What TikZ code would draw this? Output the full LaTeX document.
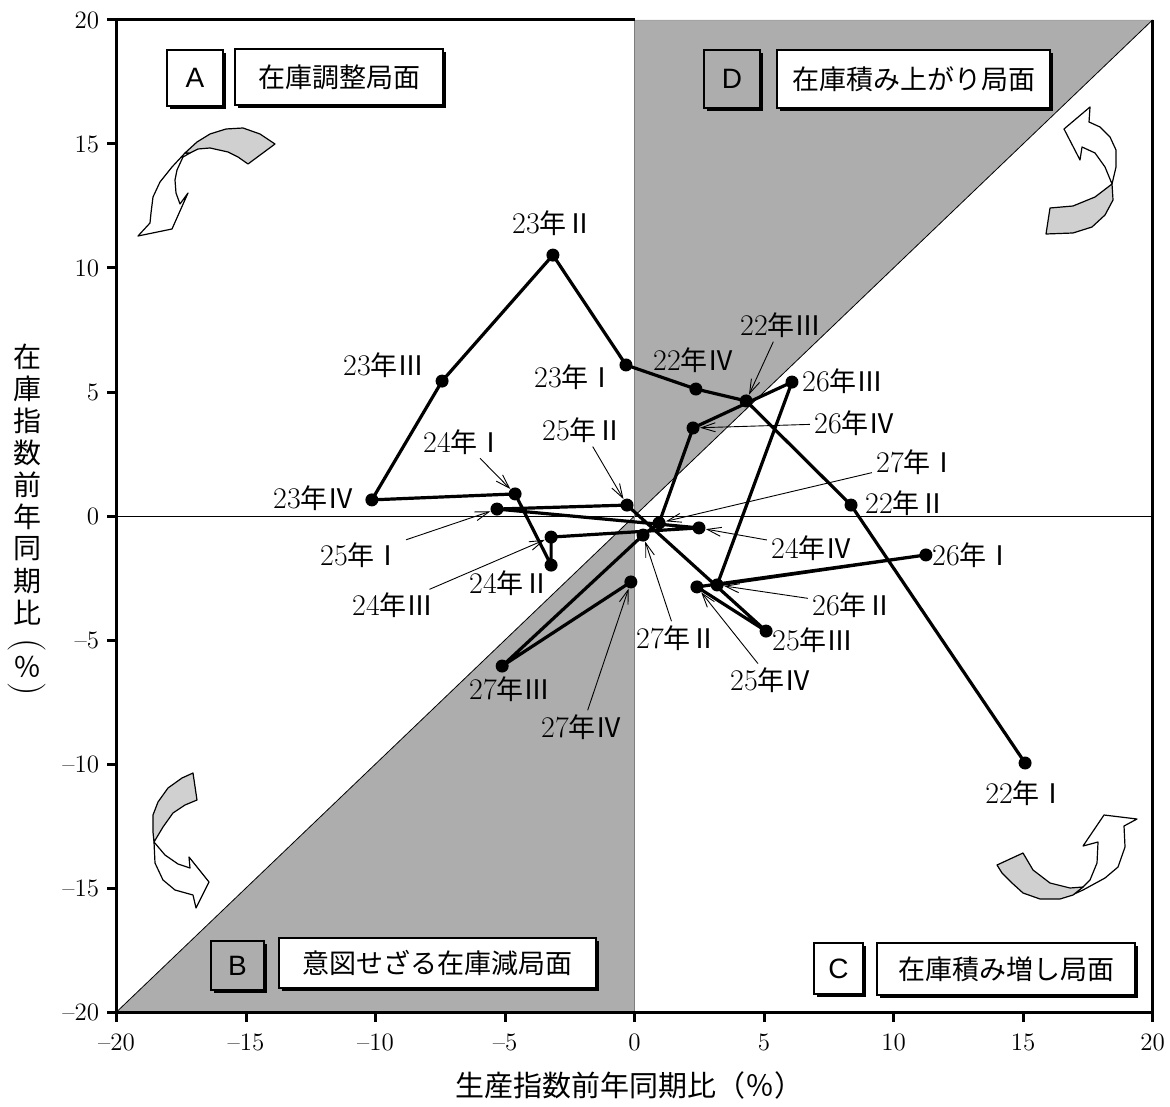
\documentclass[tikz,border=0pt]{standalone}
\usepackage{fontspec}
\newfontfamily\cjk{Noto Sans CJK JP}
\newfontfamily\sanslat{Liberation Sans}
\usetikzlibrary{arrows.meta,shadows}
\definecolor{regiongray}{RGB}{173,173,173}
\definecolor{bandgray}{RGB}{208,208,208}
\definecolor{zerogray}{RGB}{125,125,125}
\newcommand\yq[2]{#1{\cjk\fontsize{13.5}{13.5}\selectfont 年#2}}
\begin{document}
\begin{tikzpicture}[x=0.5pt,y=-0.5pt,
  dot/.style={circle,fill=black,inner sep=0pt,minimum size=6.5pt},
  dataline/.style={line width=1.6pt,line join=round},
  qlabel/.style={inner sep=1pt,font=\fontsize{15}{15}\selectfont},
  leader/.style={line width=0.45pt,-{Straight Barb[length=7pt,width=4.5pt]},shorten <=1pt},
  frame/.style={line width=1.5pt},
  ticklab/.style={font=\fontsize{12.5}{12.5}\selectfont,inner sep=0pt},
  letterbox/.style={draw=black,line width=0.6pt,inner sep=0pt,font=\sanslat\fontsize{14}{14}\selectfont,
    drop shadow={fill=black,opacity=1,shadow xshift=1.6pt,shadow yshift=-1.6pt}},
  phasebox/.style={letterbox,fill=white,font=\cjk\fontsize{13.5}{13.5}\selectfont},
  ribbon/.style={draw=black,line width=0.6pt,line join=round},
  titlechar/.style={font=\cjk\fontsize{14}{14}\selectfont,inner sep=0pt},
]
\useasboundingbox (0,0) rectangle (1170,1106);

% ---------- plot area in data units ----------
\begin{scope}[shift={(317.25pt,-258pt)},x=12.95pt,y=12.4pt]
  \fill[regiongray] (0,0) -- (0,20) -- (20,20) -- cycle;
  \fill[regiongray] (0,0) -- (-20,-20) -- (0,-20) -- cycle;
  \draw[line width=0.5pt] (-20,0) -- (20,0);
  \draw[line width=0.4pt] (-20,-20) -- (20,20);
  \draw[zerogray,line width=0.8pt] (0,-20) -- (0,20);
  \draw[zerogray!70,line width=0.4pt] (0,20) -- (20,20);
  \draw[frame] (0,20) -- (-20,20) -- (-20,-20) -- (20,-20) -- (20,20);
  \foreach \v/\t in {20/20,15/15,10/10,5/5,0/0,-5/\textendash5,-10/\textendash10,-15/\textendash15,-20/\textendash20}{
    \draw[frame] (-20,\v) -- ++(-5pt,0pt);
    \node[ticklab,anchor=east] (yt\v) at ([xshift=-8.5pt]-20,\v) {\t};
    \draw[frame] (\v,-20) -- ++(0pt,-5pt);
    \node[ticklab,anchor=north] (xt\v) at ([yshift=-10.5pt]\v,-20) {\t};
  }
  % data points
  \coordinate (p22a) at (15.08,-9.96);
  \coordinate (p22b) at (8.36,0.44);
  \coordinate (p22c) at (4.31,4.64);
  \coordinate (p22d) at (2.37,5.12);
  \coordinate (p23a) at (-0.33,6.09);
  \coordinate (p23b) at (-3.15,10.52);
  \coordinate (p23c) at (-7.43,5.44);
  \coordinate (p23d) at (-10.14,0.65);
  \coordinate (p24a) at (-4.61,0.89);
  \coordinate (p24b) at (-3.22,-1.98);
  \coordinate (p24c) at (-3.22,-0.85);
  \coordinate (p24d) at (2.49,-0.48);
  \coordinate (p25a) at (-5.31,0.28);
  \coordinate (p25b) at (-0.29,0.44);
  \coordinate (p25c) at (5.08,-4.64);
  \coordinate (p25d) at (2.41,-2.86);
  \coordinate (p26a) at (11.25,-1.57);
  \coordinate (p26b) at (3.19,-2.78);
  \coordinate (p26c) at (6.08,5.40);
  \coordinate (p26d) at (2.26,3.55);
  \coordinate (p27a) at (0.95,-0.28);
  \coordinate (p27b) at (0.33,-0.77);
  \coordinate (p27c) at (-5.11,-6.05);
  \coordinate (p27d) at (-0.14,-2.66);
  \draw[dataline] (p22a) -- (p22b) -- (p22c) -- (p22d) -- (p23a) -- (p23b) -- (p23c) -- (p23d)
    -- (p24a) -- (p24b) -- (p24c) -- (p24d) -- (p25a) -- (p25b) -- (p25c) -- (p25d)
    -- (p26a) -- (p26b) -- (p26c) -- (p26d) -- (p27a) -- (p27b) -- (p27c) -- (p27d);
  \foreach \n in {22a,22b,22c,22d,23a,23b,23c,23d,24a,24b,24c,24d,25a,25b,25c,25d,26a,26b,26c,26d,27a,27b,27c,27d}
    \node[dot] (d\n) at (p\n) {};
\end{scope}

% ---------- point labels ----------
\node[qlabel] (l22a) at (1026,793) {\yq{22}{Ⅰ}};
\node[qlabel] (l22b) at (906,503) {\yq{22}{Ⅱ}};
\node[qlabel] (l22c) at (781,325) {\yq{22}{Ⅲ}};
\node[qlabel] (l22d) at (694,360) {\yq{22}{Ⅳ}};
\node[qlabel] (l23a) at (575,377) {\yq{23}{Ⅰ}};
\node[qlabel] (l23b) at (553,223) {\yq{23}{Ⅱ}};
\node[qlabel] (l23c) at (384,365) {\yq{23}{Ⅲ}};
\node[qlabel] (l23d) at (314,498) {\yq{23}{Ⅳ}};
\node[qlabel] (l24a) at (464,442) {\yq{24}{Ⅰ}};
\node[qlabel] (l24b) at (510,583) {\yq{24}{Ⅱ}};
\node[qlabel] (l24c) at (393,605) {\yq{24}{Ⅲ}};
\node[qlabel] (l24d) at (812,548) {\yq{24}{Ⅳ}};
\node[qlabel] (l25a) at (361,555) {\yq{25}{Ⅰ}};
\node[qlabel] (l25b) at (583,430) {\yq{25}{Ⅱ}};
\node[qlabel] (l25c) at (813,640) {\yq{25}{Ⅲ}};
\node[qlabel] (l25d) at (771,680) {\yq{25}{Ⅳ}};
\node[qlabel] (l26a) at (973,555) {\yq{26}{Ⅰ}};
\node[qlabel] (l26b) at (853,605) {\yq{26}{Ⅱ}};
\node[qlabel] (l26c) at (843,381) {\yq{26}{Ⅲ}};
\node[qlabel] (l26d) at (855,423) {\yq{26}{Ⅳ}};
\node[qlabel] (l27a) at (917,462) {\yq{27}{Ⅰ}};
\node[qlabel] (l27b) at (677,638) {\yq{27}{Ⅱ}};
\node[qlabel] (l27c) at (510,689) {\yq{27}{Ⅲ}};
\node[qlabel] (l27d) at (582,727) {\yq{27}{Ⅳ}};

% leaders
\foreach \n in {22c,24a,24c,24d,25a,25b,25d,26b,26d,27a,27b,27d}
  \draw[leader] (l\n) -- (d\n);

% ---------- phase boxes ----------
\node[letterbox,fill=white,minimum width=28pt,minimum height=28pt] (boxA) at (195,78) {A};
\node[phasebox,minimum width=104pt,minimum height=28pt] (txtA) at (339,77) {在庫調整局面};
\node[letterbox,fill=regiongray,minimum width=28pt,minimum height=29pt] (boxD) at (732,79) {D};
\node[phasebox,minimum width=136.5pt,minimum height=29pt] (txtD) at (913.5,79) {在庫積み上がり局面};
\node[letterbox,fill=regiongray,minimum width=26.5pt,minimum height=24.5pt] (boxB) at (237.5,965.5) {B};
\node[phasebox,minimum width=158.5pt,minimum height=25pt] (txtB) at (437.5,963) {意図せざる在庫減局面};
\node[letterbox,fill=white,minimum width=24.5pt,minimum height=25.5pt] (boxC) at (838.5,968.5) {C};
\node[phasebox,minimum width=129pt,minimum height=26pt] (txtC) at (1006,969) {在庫積み増し局面};

% ---------- ribbon arrows ----------
% A (top left)
\filldraw[ribbon,fill=white] (185,153) -- (172,167) -- (160,182) -- (153,197) -- (151,213) -- (150,223)
  -- (138,236) -- (172,229) -- (188,193) -- (180,204) -- (176,193) -- (175,180) -- (177,170) -- (183,157) -- (190,153) -- cycle;
\filldraw[ribbon,fill=bandgray] (185,153) -- (197,142) -- (210,134) -- (226,129) -- (243,128) -- (260,134)
  -- (275,144) -- (248,164) -- (238,157) -- (228,152) -- (210,148) -- (198,149) -- (190,153) -- cycle;
% D (top right)
\filldraw[ribbon,fill=white] (1112,184) -- (1116,167) -- (1116,150) -- (1110,137) -- (1100,127) -- (1089,122)
  -- (1090,107) -- (1064,129) -- (1080,160) -- (1082,147) -- (1095,153) -- (1105,167) -- cycle;
\filldraw[ribbon,fill=bandgray] (1050,208) -- (1073,206) -- (1095,197) -- (1112,184) -- (1113,200) -- (1105,215)
  -- (1092,227) -- (1073,233) -- (1046,234) -- cycle;
% B (bottom left)
\filldraw[ribbon,fill=white] (154,842) -- (155,863) -- (163,880) -- (175,890) -- (193,895) -- (196,908)
  -- (209,882) -- (189,857) -- (190,868) -- (178,864) -- (165,855) -- cycle;
\filldraw[ribbon,fill=bandgray] (193,773) -- (182,778) -- (168,788) -- (158,802) -- (153,815) -- (153,832)
  -- (154,842) -- (163,827) -- (173,813) -- (185,805) -- (197,800) -- cycle;
% C (bottom right)
\filldraw[ribbon,fill=white] (1072,895) -- (1083,887) -- (1090,880) -- (1097,863) -- (1098,842) -- (1083,846)
  -- (1104,815) -- (1137,819) -- (1124,826) -- (1125,847) -- (1118,867) -- (1105,878) -- (1083,890) -- cycle;
\filldraw[ribbon,fill=bandgray] (997,865) -- (1023,853) -- (1033,870) -- (1050,883) -- (1070,888) -- (1083,887)
  -- (1073,895) -- (1060,899) -- (1040,899) -- (1023,893) -- (1012,883) -- (1002,873) -- cycle;

% ---------- axis titles ----------
\node[font=\cjk\fontsize{14.5}{14.5}\selectfont,inner sep=0pt] (xtitle) at (629.5,1085) {生産指数前年同期比（％）};
\foreach \c [count=\i] in {在,庫,指,数,前,年,同,期,比}
  \node[titlechar] (yc\i) at (27,{357+32*(\i-1)}) {\c};
\node[font=\fontsize{19}{19}\selectfont,inner sep=0pt,rotate=-90] (yplft) at (27,645) {(};
\node[titlechar] (ypct) at (27,667) {％};
\node[font=\fontsize{19}{19}\selectfont,inner sep=0pt,rotate=-90] (yprgt) at (27,689) {)};
\end{tikzpicture}
\end{document}
